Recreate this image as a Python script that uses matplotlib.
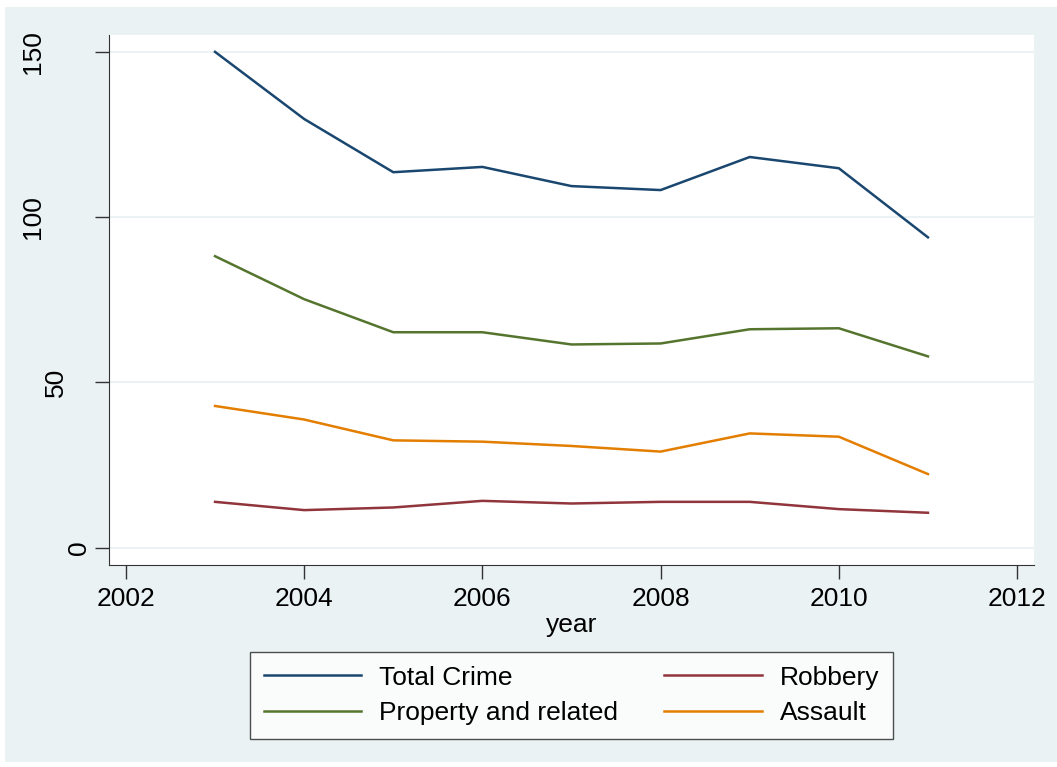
import matplotlib.pyplot as plt
import matplotlib.transforms as mtransforms
from matplotlib.patches import Rectangle

plt.rcParams['font.family'] = ['Liberation Sans', 'DejaVu Sans']

years = [2003, 2004, 2005, 2006, 2007, 2008, 2009, 2010, 2011]
total_crime = [150.0, 129.7, 113.6, 115.2, 109.4, 108.2, 118.2, 114.8, 93.9]
property_related = [88.2, 75.2, 65.2, 65.2, 61.5, 61.8, 66.1, 66.4, 57.9]
robbery = [13.9, 11.4, 12.2, 14.2, 13.4, 13.9, 13.9, 11.7, 10.6]
assault = [42.9, 38.8, 32.5, 32.1, 30.8, 29.1, 34.6, 33.6, 22.3]

x_ticks = [2002, 2004, 2006, 2008, 2010, 2012]
y_ticks = [0, 50, 100, 150]

bg = '#EAF2F3'
fs = 19
W, H = 1057, 767
fig = plt.figure(figsize=(W / 100, H / 100), dpi=100, facecolor='white')
fig.patches.append(Rectangle((5 / W, 0.007), 1.0, 1 - 7 / H - 0.007,
                             transform=fig.transFigure, facecolor=bg,
                             edgecolor='none', zorder=-1))

ax = fig.add_axes([109 / W, 1 - 565 / H, (1034 - 109) / W, (565 - 35) / H])
ax.set_facecolor('white')

l1, = ax.plot(years, total_crime, color='#1A476F', lw=1.8, label='Total Crime')
l2, = ax.plot(years, property_related, color='#55752F', lw=1.8, label='Property and related')
l3, = ax.plot(years, robbery, color='#90353B', lw=1.8, label='Robbery')
l4, = ax.plot(years, assault, color='#E37E00', lw=1.8, label='Assault')

ax.set_xlim(2001.81, 2012.19)
ax.set_ylim(-5.2, 155.1)
ax.set_xticks(x_ticks)
ax.set_yticks(y_ticks)
ax.set_yticklabels([])
ax.tick_params(labelsize=fs, length=10, width=1, color='#333333', pad=6)
ax.yaxis.grid(True, color=bg, lw=1.5)
ax.set_axisbelow(True)
for s in ['top', 'right']:
    ax.spines[s].set_visible(False)
for s in ['left', 'bottom']:
    ax.spines[s].set_color('#333333')
ax.set_xlabel('year', fontsize=fs, labelpad=1.5)

# Stata-style vertical y labels: shorter labels sit closer to the axis
ytrans = mtransforms.blended_transform_factory(fig.transFigure, ax.transData)
for v in y_ticks:
    lab = str(v)
    xc = (102 - 23 * len(lab)) / W
    ax.text(xc, v, lab, transform=ytrans, rotation=90, ha='center', va='center',
            fontsize=fs)

leg = fig.legend([l1, l2, l3, l4], ['Total Crime', 'Property and related', 'Robbery', 'Assault'],
                 ncol=2, loc='center',
                 bbox_to_anchor=((248 + 895) / 2 / W, 1 - (651 + 740) / 2 / H),
                 fontsize=fs, frameon=True, fancybox=False, edgecolor='#222222',
                 handlelength=3.7, handletextpad=0.68, labelspacing=0.45,
                 columnspacing=1.74, borderpad=0.53, borderaxespad=0)
leg.get_frame().set_linewidth(1.0)
leg.get_frame().set_facecolor('white')

plt.savefig('out.png', dpi=100, facecolor=fig.get_facecolor())
